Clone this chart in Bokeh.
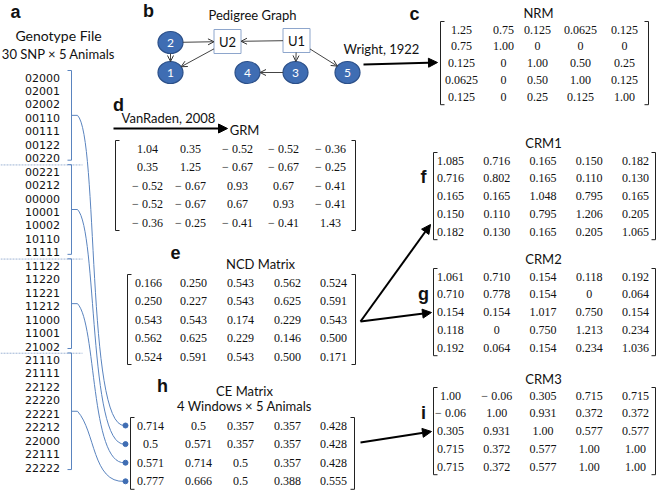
import math
from bokeh.plotting import figure
from bokeh.models import Range1d, Arrow, NormalHead, OpenHead
from bokeh.core.properties import value
from bokeh.embed import file_html
from bokeh.resources import INLINE

# ---------------- data ----------------
genotypes = ["02000", "02001", "02002", "00110", "00111", "00122", "00220",
             "00221", "00212", "00000", "10001", "10002", "10110", "11111",
             "11122", "11220", "11221", "11212", "11000", "11001", "21002",
             "21110", "21111", "22122", "22220", "22221", "22212", "22000", "22111", "22222"]
window_sizes = [7, 7, 7, 9]

animals = ["1", "2", "3", "4", "5"]
unknown_parents = ["U1", "U2"]
pedigree_edges = [("2", "U2"), ("U1", "U2"), ("2", "1"), ("U2", "1"),
                  ("U1", "3"), ("U1", "5"), ("3", "4")]

NRM = [["1.25", "0.75", "0.125", "0.0625", "0.125"],
       ["0.75", "1.00", "0", "0", "0"],
       ["0.125", "0", "1.00", "0.50", "0.25"],
       ["0.0625", "0", "0.50", "1.00", "0.125"],
       ["0.125", "0", "0.25", "0.125", "1.00"]]

GRM = [["1.04", "0.35", "\u2212 0.52", "\u2212 0.52", "\u2212 0.36"],
       ["0.35", "1.25", "\u2212 0.67", "\u2212 0.67", "\u2212 0.25"],
       ["\u2212 0.52", "\u2212 0.67", "0.93", "0.67", "\u2212 0.41"],
       ["\u2212 0.52", "\u2212 0.67", "0.67", "0.93", "\u2212 0.41"],
       ["\u2212 0.36", "\u2212 0.25", "\u2212 0.41", "\u2212 0.41", "1.43"]]

NCD = [["0.166", "0.250", "0.543", "0.562", "0.524"],
       ["0.250", "0.227", "0.543", "0.625", "0.591"],
       ["0.543", "0.543", "0.174", "0.229", "0.543"],
       ["0.562", "0.625", "0.229", "0.146", "0.500"],
       ["0.524", "0.591", "0.543", "0.500", "0.171"]]

CE = [["0.714", "0.5", "0.357", "0.357", "0.428"],
      ["0.5", "0.571", "0.357", "0.357", "0.428"],
      ["0.571", "0.714", "0.5", "0.357", "0.428"],
      ["0.777", "0.666", "0.5", "0.388", "0.555"]]

CRM1 = [["1.085", "0.716", "0.165", "0.150", "0.182"],
        ["0.716", "0.802", "0.165", "0.110", "0.130"],
        ["0.165", "0.165", "1.048", "0.795", "0.165"],
        ["0.150", "0.110", "0.795", "1.206", "0.205"],
        ["0.182", "0.130", "0.165", "0.205", "1.065"]]

CRM2 = [["1.061", "0.710", "0.154", "0.118", "0.192"],
        ["0.710", "0.778", "0.154", "0", "0.064"],
        ["0.154", "0.154", "1.017", "0.750", "0.154"],
        ["0.118", "0", "0.750", "1.213", "0.234"],
        ["0.192", "0.064", "0.154", "0.234", "1.036"]]

CRM3 = [["1.00", "\u2212 0.06", "0.305", "0.715", "0.715"],
        ["\u2212 0.06", "1.00", "0.931", "0.372", "0.372"],
        ["0.305", "0.931", "1.00", "0.577", "0.577"],
        ["0.715", "0.372", "0.577", "1.00", "1.00"],
        ["0.715", "0.372", "0.577", "1.00", "1.00"]]

# ---------------- figure ----------------
W, H = 661, 492
p = figure(width=W, height=H, x_range=Range1d(0, W), y_range=Range1d(H, 0),
           output_backend="svg", toolbar_location=None, min_border=0,
           x_axis_type=None, y_axis_type=None)
p.grid.visible = False
p.outline_line_color = None

SANS = value("Lato")
SERIF = value("Liberation Serif")
BOLDF = value("Liberation Sans")
GENO = value("DejaVu Sans")
BLUE = "#5a84bf"
NODE_FILL = "#3f6db3"
NODE_LINE = "#2b4f88"


def label(x, y, t, font=SANS, size=13, color="#111111", style="normal", align="center"):
    p.text(x=[x], y=[y], text=[t], text_font=font, text_font_size=value(f"{size}px"),
           text_font_style=style, text_color=color, text_align=align, text_baseline="middle")


def draw_matrix(M, cols, y0, dy, left, right, pad=8):
    xs, ys, ts = [], [], []
    for i, row in enumerate(M):
        for j, v in enumerate(row):
            xs.append(cols[j])
            ys.append(y0 + i * dy)
            ts.append(v)
    p.text(x=xs, y=ys, text=ts, text_font=SERIF, text_font_size=value("12px"),
           text_color="#111111", text_align="center", text_baseline="middle")
    top = y0 - pad
    bot = y0 + (len(M) - 1) * dy + pad
    s = 4
    p.segment(x0=[left, left, left, right, right, right],
              y0=[top, top, bot, top, top, bot],
              x1=[left, left + s, left + s, right, right - s, right - s],
              y1=[bot, top, bot, bot, top, bot],
              line_color="#222222", line_width=1)


def big_arrow(x0, y0, x1, y1):
    p.add_layout(Arrow(end=NormalHead(size=9, fill_color="black", line_color="black"),
                       x_start=x0, y_start=y0, x_end=x1, y_end=y1,
                       line_color="black", line_width=2))


# ---------------- panel a : genotype file ----------------
label(15, 11, "a", font=BOLDF, size=18, style="bold")
label(58, 35, "Genotype File", size=14)
label(58, 53, "30 SNP \u00d7 5 Animals", size=13)

gy0, gdy = 77, 13.45
gy = [gy0 + i * gdy for i in range(len(genotypes))]
p.text(x=[42] * len(genotypes), y=gy, text=genotypes, text_font=GENO,
       text_font_size=value("11px"), text_color="#111111", text_align="center",
       text_baseline="middle")

ce_y0, ce_dy = 425, 18.6
start = 0
mids = []
for k, n in enumerate(window_sizes):
    s, e = start, start + n - 1
    top, bot = gy[s] - 7, gy[e] + 2
    mid = (top + bot) / 2
    mids.append(mid)
    p.segment(x0=[71, 67, 67, 71], y0=[top, top, bot, mid],
              x1=[71, 71, 71, 77], y1=[bot, top, bot, mid],
              line_color=BLUE, line_width=1)
    if k < len(window_sizes) - 1:
        sep = (gy[e] + gy[e + 1]) / 2
        p.segment(x0=[0], y0=[sep], x1=[82], y1=[sep], line_color="#9fb4d4",
                  line_dash="2 1", line_width=1)
    start += n

ends_y = [ce_y0 + k * ce_dy for k in range(len(window_sizes))]
p.bezier(x0=[77] * 4, y0=mids, x1=[124] * 4, y1=ends_y,
         cx0=[98, 97, 96, 95], cy0=[m + 20 for m in mids],
         cx1=[86, 88, 90, 92], cy1=[ey + 2 for ey in ends_y],
         line_color=BLUE, line_width=1)
p.scatter(x=[125] * 4, y=ends_y, size=5, fill_color=NODE_FILL, line_color=NODE_FILL)

# ---------------- panel b : pedigree ----------------
label(148, 10, "b", font=BOLDF, size=18, style="bold")
label(252, 14, "Pedigree Graph", size=13)
pos = {"2": (170, 42), "1": (170, 72), "4": (247, 72), "3": (295, 72), "5": (347, 72),
       "U2": (227, 41), "U1": (296, 40)}
RX, RY = 12.5, 11
BW, BH = 27, 24


def trim(name, ux, uy):
    if name in unknown_parents:
        tx = (BW / 2) / abs(ux) if abs(ux) > 1e-9 else 1e9
        ty = (BH / 2) / abs(uy) if abs(uy) > 1e-9 else 1e9
        return min(tx, ty)
    return 1.0 / math.sqrt((ux / RX) ** 2 + (uy / RY) ** 2)


for a, b in pedigree_edges:
    (xa, ya), (xb, yb) = pos[a], pos[b]
    d = math.hypot(xb - xa, yb - ya)
    ux, uy = (xb - xa) / d, (yb - ya) / d
    ta, tb = trim(a, ux, uy), trim(b, ux, uy)
    p.add_layout(Arrow(end=OpenHead(size=6, line_color="#333333", line_width=1),
                       x_start=xa + ux * ta, y_start=ya + uy * ta,
                       x_end=xb - ux * tb, y_end=yb - uy * tb,
                       line_color="#444444", line_width=1))

p.rect(x=[pos[u][0] for u in unknown_parents], y=[pos[u][1] for u in unknown_parents],
       width=BW, height=BH, fill_color="white", line_color="#8ea6cc", line_width=1)
p.text(x=[pos[u][0] for u in unknown_parents], y=[pos[u][1] for u in unknown_parents],
       text=unknown_parents, text_font=SANS, text_font_size=value("13px"),
       text_color="#111111", text_align="center", text_baseline="middle")
p.ellipse(x=[pos[a][0] for a in animals], y=[pos[a][1] for a in animals],
          width=2 * RX, height=2 * RY, fill_color=NODE_FILL, line_color=NODE_LINE,
          line_width=1.2)
p.text(x=[pos[a][0] for a in animals], y=[pos[a][1] for a in animals], text=animals,
       text_font=SANS, text_font_size=value("12px"), text_color="white",
       text_align="center", text_baseline="middle")

# ---------------- panel c : NRM ----------------
label(414, 13, "c", font=BOLDF, size=18, style="bold")
label(538, 12, "NRM", size=13)
label(381, 48, "Wright, 1922", size=13)
big_arrow(363, 64, 437, 62)
draw_matrix(NRM, [461, 503, 537, 580, 624], 29, 16.8, 440, 648, pad=8)

# ---------------- panel d : GRM ----------------
label(118, 104, "d", font=BOLDF, size=18, style="bold")
label(168, 117, "VanRaden, 2008", size=13)
big_arrow(113, 128, 227, 128)
label(244, 129, "GRM", size=13)
draw_matrix(GRM, [147, 190, 237, 283, 330], 148, 18.5, 115, 355)

# ---------------- panel e : NCD ----------------
label(175, 252, "e", font=BOLDF, size=18, style="bold")
label(260, 263, "NCD Matrix", size=13)
draw_matrix(NCD, [148, 193, 240, 287, 333], 282, 18.5, 127, 355)

# ---------------- panel h : CE ----------------
label(162, 385, "h", font=BOLDF, size=18, style="bold")
label(244, 390, "CE Matrix", size=13)
label(244, 405, "4 Windows \u00d7 5 Animals", size=13)
draw_matrix(CE, [150, 198, 240, 287, 333], ce_y0, ce_dy, 130, 354)

# ---------------- panels f, g, i : CRM ----------------
crm_cols = [450 + 46.25 * j for j in range(5)]
label(423, 176, "f", font=BOLDF, size=18, style="bold")
label(543, 142, "CRM1", size=13)
draw_matrix(CRM1, crm_cols, 160, 17.8, 433, 655)

label(423, 293, "g", font=BOLDF, size=18, style="bold")
label(543, 258, "CRM2", size=13)
draw_matrix(CRM2, crm_cols, 276, 17.8, 433, 655)

label(423, 412, "i", font=BOLDF, size=18, style="bold")
label(543, 378, "CRM3", size=13)
draw_matrix(CRM3, crm_cols, 395, 17.8, 433, 655)

big_arrow(360, 321, 430, 224)
big_arrow(360, 321, 431, 312)
big_arrow(360, 442, 431, 431)

open("out.html", "w").write(file_html(p, INLINE))
